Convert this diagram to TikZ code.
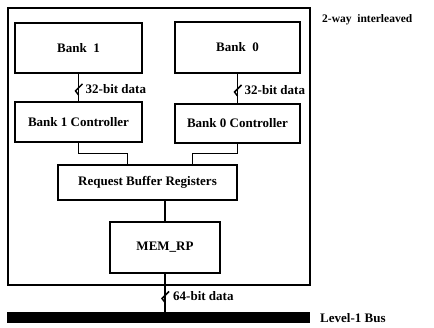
\documentclass[tikz,border=0pt]{standalone}
\usepackage{fontspec}
\setmainfont{Liberation Serif}
\usetikzlibrary{positioning,calc}

\tikzset{
  blk/.style={rectangle,draw=black,line width=1.1pt,inner sep=0pt,font=\bfseries\fontsize{13}{15}\selectfont},
  wire/.style={-,black,line width=1.1pt},
  bw/.style={-,black,line width=1.5pt},
  lbl/.style={font=\bfseries\fontsize{13}{15}\selectfont,anchor=west,inner sep=0pt}
}

\begin{document}
\begin{tikzpicture}[x=1pt,y=-1pt]
\useasboundingbox (0,0) rectangle (434,328);
% memory module outline
\draw[line width=1.1pt] (8,8) rectangle (310,285);
\node[lbl,font=\bfseries\fontsize{11.5}{13}\selectfont] (way) at (322,20) {2-way\ \ interleaved};

% banks and their controllers
\node[blk,minimum width=127pt,minimum height=50pt] (bank1) at (78.5,48) {Bank\ \ 1};
\node[blk,minimum width=125pt,minimum height=51pt] (bank0) at (237.5,47.5) {Bank\ \ 0};
\node[blk,minimum width=127pt,minimum height=40pt] (ctl1) at (78.5,122) {Bank 1 Controller};
\node[blk,minimum width=125pt,minimum height=39pt] (ctl0) at (237.5,123.5) {Bank 0 Controller};
\node[blk,minimum width=179pt,minimum height=35pt] (rbr) at (147.5,182.5) {Request Buffer Registers};
\node[blk,minimum width=110pt,minimum height=51pt] (memrp) at (165,247.5) {MEM\_RP};
\node[rectangle,fill=black,inner sep=0pt,minimum width=303pt,minimum height=11pt] (bus) at (158.5,317.5) {};
\node[lbl] (buslbl) at (320,318) {Level-1 Bus};

% data paths
\foreach \b in {1,0} {
  \draw[wire] (bank\b.south) -- (ctl\b.north);
  \coordinate (m\b) at ($(bank\b.south)!0.55!(ctl\b.north)$);
  \draw[bw] ($(m\b)+(4,-5)$) -- ($(m\b)+(-3,2)$) -- ($(m\b)+(0,6)$);
  \node[lbl] (d\b) at ($(m\b)+(7,0)$) {32-bit data};
}
\draw[wire] (ctl1.south) -- ++(0,11) -| ([xshift=-20pt]rbr.north);
\draw[wire] (ctl0.south) -- ++(0,10) -| ([xshift=45pt]rbr.north);
\draw[wire] (rbr.south) -| (memrp.north);
\draw[wire] (memrp.south) -- (memrp.south |- bus.north);
\coordinate (m2) at ($(memrp.south)!0.6!(memrp.south |- bus.north)$);
\draw[bw] ($(m2)+(4,-5)$) -- ($(m2)+(-3,2)$) -- ($(m2)+(0,6)$);
\node[lbl] (d64) at ($(m2)+(8,0)$) {64-bit data};
\end{tikzpicture}
\end{document}
